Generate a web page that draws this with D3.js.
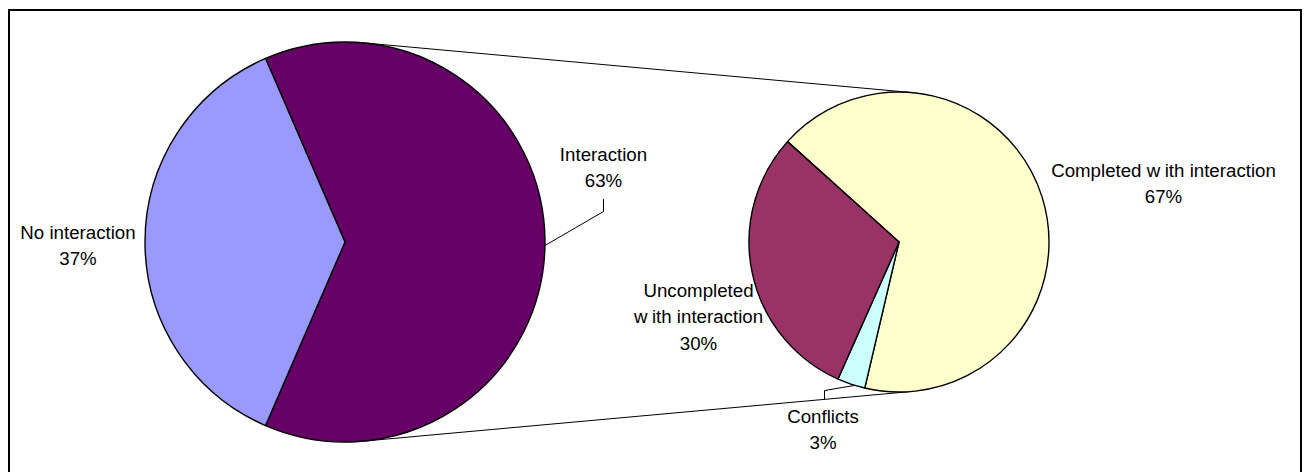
<!DOCTYPE html>
<html>
<head>
<meta charset="utf-8">
<script src="https://cdn.jsdelivr.net/npm/d3@7"></script>
<style>
  html, body { margin: 0; padding: 0; background: #fff; }
  svg { display: block; }
  text { font-family: "Liberation Sans", Arial, sans-serif; font-size: 18.7px; fill: #000; }
</style>
</head>
<body>
<svg id="chart" width="1306" height="472"></svg>
<script>
// Main pie: share of sessions with / without interaction
const mainCategories = ["Interaction", "No interaction"];
const mainValues = [63, 37];
const mainColors = ["#660066", "#9999FF"];

// Secondary pie: breakdown of the "Interaction" share
const subCategories = ["Completed with interaction", "Conflicts", "Uncompleted with interaction"];
const subValues = [67, 3, 30];
const subColors = ["#FFFFCC", "#CCFFFF", "#993366"];

const svg = d3.select("#chart");
const W = 1306, H = 472;

// outer frame
svg.append("rect")
  .attr("x", 9).attr("y", 10).attr("width", 1292).attr("height", 470)
  .attr("fill", "#fff").attr("stroke", "#000").attr("stroke-width", 2);

const deg = Math.PI / 180;
const main = { cx: 345, cy: 242, r: 200 };
const sub = { cx: 899, cy: 242, r: 150 };

// --- connector lines (outer tangents of both pies) ---
const d = sub.cx - main.cx;
const s = (main.r - sub.r) / d;
const c = Math.sqrt(1 - s * s);
[-1, 1].forEach(dir => {
  const nx = s, ny = dir * c;
  svg.append("line")
    .attr("x1", main.cx + nx * main.r).attr("y1", main.cy + ny * main.r)
    .attr("x2", sub.cx + nx * sub.r).attr("y2", sub.cy + ny * sub.r)
    .attr("stroke", "#000").attr("stroke-width", 1);
});

// --- main pie ---
const interactionShare = mainValues[0] / d3.sum(mainValues);
const mainStart = Math.PI / 2 - interactionShare * Math.PI;
const mainPie = d3.pie().sort(null).value(v => v)
  .startAngle(mainStart).endAngle(mainStart + 2 * Math.PI);
const mainArc = d3.arc().innerRadius(0).outerRadius(main.r);
const gMain = svg.append("g").attr("transform", `translate(${main.cx},${main.cy})`);
gMain.selectAll("path").data(mainPie(mainValues)).join("path")
  .attr("d", mainArc)
  .attr("fill", (v, i) => mainColors[i])
  .attr("stroke", "#000").attr("stroke-width", 1.4).attr("stroke-linejoin", "round");

// --- secondary pie ---
const subStart = -48 * deg;
const subPie = d3.pie().sort(null).value(v => v)
  .startAngle(subStart).endAngle(subStart + 2 * Math.PI);
const subArc = d3.arc().innerRadius(0).outerRadius(sub.r);
const subData = subPie(subValues);
const gSub = svg.append("g").attr("transform", `translate(${sub.cx},${sub.cy})`);
gSub.selectAll("path").data(subData).join("path")
  .attr("d", subArc)
  .attr("fill", (v, i) => subColors[i])
  .attr("stroke", "#000").attr("stroke-width", 1.4).attr("stroke-linejoin", "round");

// point on a pie rim at a given angle (clockwise from 12 o'clock)
function rim(p, a) {
  return [p.cx + p.r * Math.sin(a), p.cy - p.r * Math.cos(a)];
}

// --- leader lines ---
const leader = d3.line();
const interAnchor = rim(main, 91 * deg);
svg.append("path")
  .attr("d", leader([interAnchor, [603.5, 211.5], [603.5, 199]]))
  .attr("fill", "none").attr("stroke", "#000").attr("stroke-width", 1);

const conf = subData[1];
const confAnchor = rim(sub, (conf.startAngle + conf.endAngle) / 2 - 1.5 * deg);
svg.append("path")
  .attr("d", leader([confAnchor, [824.5, 390.5], [824.5, 399.5]]))
  .attr("fill", "none").attr("stroke", "#000").attr("stroke-width", 1);

// --- labels ---
function label(x, y, lines) {
  const t = svg.append("text").attr("text-anchor", "middle").attr("x", x).attr("y", y);
  lines.forEach((ln, i) => {
    const ts = t.append("tspan").attr("x", x).attr("dy", i === 0 ? 0 : 26.6);
    if (Array.isArray(ln)) {
      // split word drawn with a small gap, as the original renderer spaced it
      ts.text(ln[0]);
      t.append("tspan").attr("dx", 4.5).text(ln[1]);
    } else {
      ts.text(ln);
    }
  });
}
const pct = v => v + "%";

label(78, 238.5, [mainCategories[1], pct(mainValues[1])]);
label(603.5, 160.5, [mainCategories[0], pct(mainValues[0])]);
label(1163.5, 176.5, [["Completed w", "ith interaction"], pct(subValues[0])]);
label(698.5, 296.5, ["Uncompleted", ["w", "ith interaction"], pct(subValues[2])]);
label(823, 422.5, [subCategories[1], pct(subValues[1])]);
</script>
</body>
</html>
